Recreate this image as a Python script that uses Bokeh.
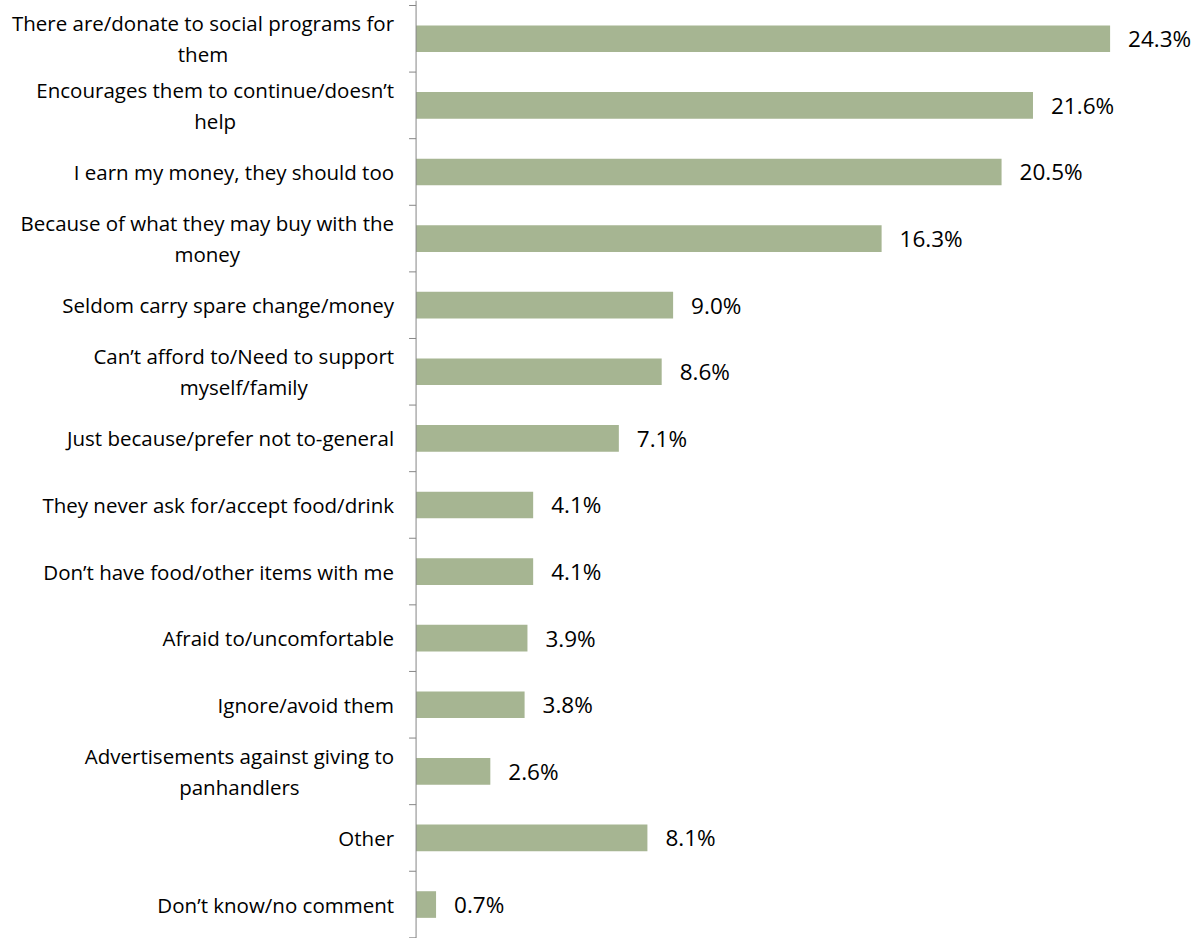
import math
from bokeh.plotting import figure
from bokeh.models import Range1d, Span, ColumnDataSource
from bokeh.core.properties import value
from bokeh.embed import file_html
from bokeh.resources import INLINE

categories = [
    "There are/donate to social programs for\nthem",
    "Encourages them to continue/doesn\u2019t\nhelp",
    "I earn my money, they should too",
    "Because of what they may buy with the\nmoney",
    "Seldom carry spare change/money",
    "Can\u2019t afford to/Need to support\nmyself/family",
    "Just because/prefer not to-general",
    "They never ask for/accept food/drink",
    "Don\u2019t have food/other items with me",
    "Afraid to/uncomfortable",
    "Ignore/avoid them",
    "Advertisements against giving to\npanhandlers",
    "Other",
    "Don\u2019t know/no comment",
]
values = [24.3, 21.6, 20.5, 16.3, 9.0, 8.6, 7.1, 4.1, 4.1, 3.9, 3.8, 2.6, 8.1, 0.7]
value_labels = [f"{v:.1f}%" for v in values]

n = len(categories)
idx = list(range(n))
bar_color = "#A6B592"
axis_color = "#868686"
font = "Open Sans"

src = ColumnDataSource(dict(y=idx, v=values, cat=categories, lab=value_labels,
                            zero=[0] * n))

p = figure(width=1193, height=938, output_backend="svg", toolbar_location=None,
           x_range=Range1d(-14.55, 27.22), y_range=Range1d(13.51, -0.575),
           min_border=0, min_border_left=0, min_border_right=0,
           min_border_top=0, min_border_bottom=0)
p.xaxis.visible = False
p.yaxis.visible = False
p.grid.visible = False
p.outline_line_color = None

p.hbar(y="y", left=0, right="v", height=0.40, source=src,
       fill_color=bar_color, line_color=None)

# value labels
p.text(x="v", y="y", text="lab", source=src, x_offset=18,
       text_align="left", text_baseline="middle",
       text_font=value(font), text_font_size="22.5px", text_color="#000000")

# category labels (block right-anchored at axis, lines centered)
p.text(x="zero", y="y", text="cat", source=src, x_offset=-22,
       anchor="center_right", text_align="center", text_baseline="middle",
       text_line_height=1.12,
       text_font=value(font), text_font_size="20.5px", text_color="#000000")

# axis line and tick marks between categories
p.add_layout(Span(location=0, dimension="height", line_color=axis_color, line_width=1))
bounds = [i - 0.5 for i in range(n + 1)]
p.ray(x=[0] * len(bounds), y=bounds, length=7, length_units="screen",
      angle=math.pi, line_color=axis_color, line_width=1)

open("out.html", "w").write(file_html(p, INLINE))
